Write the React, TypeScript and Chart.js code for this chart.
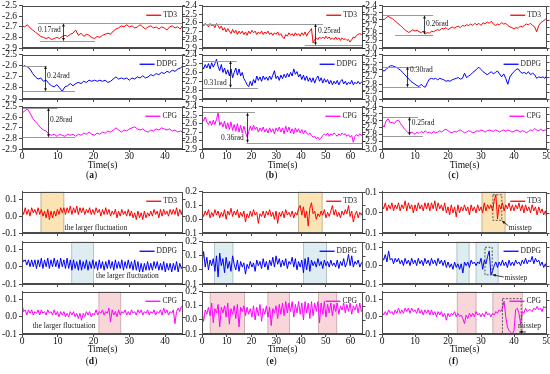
import React, { useEffect, useRef } from 'react';
import { Chart, registerables } from 'chart.js';

Chart.register(...registerables);

const FONT = '"Liberation Serif", "Times New Roman", serif';
Chart.defaults.font.family = FONT;

// ---------- data (a) ----------
const A_TD3 = [-2.69,-2.70,-2.68,-2.71,-2.73,-2.75,-2.77,-2.79,-2.80,-2.81,
  -2.80,-2.82,-2.81,-2.80,-2.81,-2.79,-2.78,-2.79,-2.77,-2.76,
  -2.73,-2.78,-2.76,-2.79,-2.77,-2.78,-2.80,-2.81,-2.79,-2.80,
  -2.78,-2.77,-2.76,-2.77,-2.74,-2.72,-2.71,-2.69,-2.70,-2.68,
  -2.70,-2.69,-2.71,-2.70,-2.68,-2.70,-2.72,-2.70,-2.69,-2.71,
  -2.70,-2.72,-2.70,-2.71,-2.73,-2.70,-2.69,-2.71,-2.70,-2.72,-2.68];
const A_DDPG = [-2.61,-2.60,-2.61,-2.63,-2.67,-2.70,-2.72,-2.71,-2.74,-2.73,
  -2.76,-2.78,-2.79,-2.77,-2.80,-2.83,-2.79,-2.78,-2.76,-2.78,
  -2.76,-2.75,-2.76,-2.74,-2.75,-2.73,-2.74,-2.73,-2.74,-2.73,
  -2.74,-2.73,-2.75,-2.74,-2.72,-2.70,-2.72,-2.71,-2.72,-2.71,
  -2.73,-2.71,-2.72,-2.70,-2.71,-2.69,-2.71,-2.70,-2.68,-2.69,
  -2.67,-2.68,-2.66,-2.67,-2.65,-2.66,-2.64,-2.65,-2.63,-2.62,-2.60];
const A_CPG = [-2.56,-2.54,-2.52,-2.56,-2.61,-2.64,-2.67,-2.70,-2.72,-2.73,
  -2.76,-2.77,-2.76,-2.78,-2.76,-2.77,-2.78,-2.76,-2.77,-2.76,
  -2.78,-2.76,-2.77,-2.75,-2.76,-2.74,-2.76,-2.77,-2.75,-2.76,
  -2.74,-2.75,-2.73,-2.74,-2.72,-2.70,-2.72,-2.74,-2.72,-2.73,
  -2.71,-2.70,-2.69,-2.71,-2.72,-2.71,-2.73,-2.74,-2.72,-2.73,
  -2.71,-2.72,-2.70,-2.71,-2.72,-2.71,-2.73,-2.72,-2.74,-2.73,-2.74];

// ---------- data (b) ----------
const B_TD3 = [-2.62,-2.64,-2.61,-2.63,-2.65,-2.61,-2.64,-2.62,-2.66,-2.61,
  -2.64,-2.67,-2.64,-2.69,-2.66,-2.71,-2.67,-2.70,-2.73,-2.68,
  -2.72,-2.69,-2.74,-2.70,-2.73,-2.70,-2.74,-2.71,-2.75,-2.70,
  -2.73,-2.69,-2.72,-2.70,-2.74,-2.71,-2.73,-2.70,-2.74,-2.71,
  -2.73,-2.70,-2.74,-2.72,-2.75,-2.72,-2.74,-2.71,-2.75,-2.73,
  -2.77,-2.79,-2.74,-2.76,-2.72,-2.75,-2.73,-2.76,-2.72,-2.75,
  -2.73,-2.76,-2.72,-2.75,-2.71,-2.76,-2.72,-2.70,-2.67,-2.84,
  -2.80,-2.78,-2.80,-2.77,-2.79,-2.77,-2.79,-2.76,-2.79,-2.77,
  -2.80,-2.78,-2.80,-2.77,-2.80,-2.78,-2.81,-2.78,-2.80,-2.79,
  -2.81,-2.80,-2.83,-2.80,-2.77,-2.78,-2.75,-2.74,-2.73,-2.74,-2.73];
const B_DDPG = [-2.52,-2.56,-2.51,-2.55,-2.50,-2.56,-2.49,-2.54,-2.50,-2.45,
  -2.53,-2.58,-2.51,-2.60,-2.55,-2.62,-2.57,-2.64,-2.56,-2.66,
  -2.60,-2.55,-2.63,-2.56,-2.64,-2.60,-2.67,-2.70,-2.74,-2.76,
  -2.70,-2.75,-2.68,-2.72,-2.64,-2.69,-2.65,-2.70,-2.64,-2.68,
  -2.65,-2.69,-2.64,-2.68,-2.63,-2.58,-2.67,-2.64,-2.69,-2.63,
  -2.67,-2.62,-2.66,-2.61,-2.65,-2.60,-2.64,-2.56,-2.62,-2.59,
  -2.65,-2.62,-2.68,-2.63,-2.69,-2.64,-2.70,-2.66,-2.71,-2.66,
  -2.72,-2.67,-2.64,-2.70,-2.66,-2.72,-2.67,-2.71,-2.68,-2.73,
  -2.69,-2.74,-2.70,-2.73,-2.69,-2.74,-2.70,-2.68,-2.73,-2.70,
  -2.74,-2.71,-2.73,-2.69,-2.74,-2.71,-2.73,-2.70,-2.73,-2.71,-2.72];
const B_CPG = [-2.53,-2.57,-2.52,-2.58,-2.61,-2.57,-2.62,-2.56,-2.61,-2.55,
  -2.47,-2.62,-2.58,-2.64,-2.57,-2.66,-2.59,-2.67,-2.58,-2.68,
  -2.61,-2.69,-2.60,-2.70,-2.62,-2.71,-2.63,-2.70,-2.76,-2.70,
  -2.63,-2.68,-2.62,-2.67,-2.64,-2.70,-2.65,-2.69,-2.64,-2.70,
  -2.66,-2.71,-2.65,-2.70,-2.66,-2.72,-2.65,-2.69,-2.64,-2.70,
  -2.65,-2.72,-2.63,-2.70,-2.64,-2.71,-2.66,-2.72,-2.65,-2.70,
  -2.66,-2.71,-2.67,-2.72,-2.68,-2.71,-2.73,-2.71,-2.74,-2.76,
  -2.75,-2.78,-2.76,-2.79,-2.77,-2.74,-2.72,-2.74,-2.71,-2.75,
  -2.72,-2.74,-2.71,-2.73,-2.75,-2.72,-2.74,-2.71,-2.73,-2.72,
  -2.75,-2.73,-2.76,-2.74,-2.82,-2.75,-2.73,-2.75,-2.72,-2.74,-2.72];

// ---------- data (c) ----------
const C_TD3 = [-2.58,-2.60,-2.57,-2.55,-2.57,-2.58,-2.61,-2.63,-2.66,-2.68,
  -2.71,-2.74,-2.76,-2.78,-2.76,-2.74,-2.76,-2.75,-2.77,-2.78,
  -2.76,-2.80,-2.78,-2.79,-2.76,-2.77,-2.75,-2.74,-2.75,-2.72,
  -2.73,-2.71,-2.74,-2.72,-2.70,-2.72,-2.70,-2.69,-2.71,-2.68,
  -2.69,-2.67,-2.68,-2.66,-2.68,-2.65,-2.67,-2.65,-2.68,-2.64,
  -2.66,-2.63,-2.65,-2.62,-2.66,-2.68,-2.66,-2.67,-2.64,-2.66,
  -2.65,-2.68,-2.70,-2.71,-2.73,-2.71,-2.72,-2.69,-2.70,-2.68,
  -2.66,-2.67,-2.65,-2.68,-2.70,-2.77,-2.68,-2.64,-2.62,-2.60,-2.57];
const C_DDPG = [-2.61,-2.62,-2.60,-2.57,-2.55,-2.55,-2.56,-2.57,-2.59,-2.61,
  -2.64,-2.67,-2.70,-2.73,-2.76,-2.78,-2.80,-2.82,-2.83,-2.80,
  -2.83,-2.84,-2.78,-2.73,-2.72,-2.73,-2.72,-2.74,-2.72,-2.73,
  -2.74,-2.76,-2.75,-2.76,-2.74,-2.73,-2.72,-2.71,-2.73,-2.72,
  -2.65,-2.71,-2.69,-2.67,-2.64,-2.62,-2.59,-2.57,-2.60,-2.63,
  -2.65,-2.67,-2.65,-2.63,-2.66,-2.64,-2.62,-2.66,-2.70,-2.66,
  -2.72,-2.80,-2.70,-2.66,-2.63,-2.60,-2.59,-2.63,-2.65,-2.64,
  -2.66,-2.63,-2.67,-2.65,-2.67,-2.72,-2.70,-2.71,-2.70,-2.72,-2.68];
const C_CPG = [-2.65,-2.69,-2.60,-2.57,-2.63,-2.62,-2.64,-2.60,-2.59,-2.64,
  -2.68,-2.72,-2.75,-2.78,-2.76,-2.77,-2.79,-2.76,-2.78,-2.75,
  -2.77,-2.74,-2.77,-2.76,-2.78,-2.75,-2.77,-2.76,-2.74,-2.76,
  -2.73,-2.72,-2.74,-2.76,-2.77,-2.75,-2.76,-2.74,-2.73,-2.75,
  -2.77,-2.76,-2.74,-2.75,-2.77,-2.76,-2.74,-2.75,-2.73,-2.74,
  -2.76,-2.74,-2.73,-2.74,-2.75,-2.73,-2.74,-2.76,-2.74,-2.73,
  -2.75,-2.73,-2.74,-2.76,-2.75,-2.73,-2.74,-2.76,-2.74,-2.75,
  -2.77,-2.75,-2.73,-2.74,-2.71,-2.73,-2.74,-2.72,-2.74,-2.73,-2.74];

// ---------- data (d) ----------
const D_TD3 = [0.04,0.01,0.05,0.01,0.04,0.00,0.05,0.02,0.04,0.01,0.05,0.01,
  0.04,0.00,0.03,-0.01,0.04,-0.02,0.03,-0.01,0.03,0.00,0.04,0.01,0.05,
  0.02,0.05,0.01,0.05,0.02,0.06,0.01,0.05,0.02,0.06,0.01,0.05,0.02,0.05,0.01,0.04,
  0.02,0.05,0.01,0.04,0.01,0.05,0.02,0.04,0.00,0.04,0.01,0.05,0.01,
  0.04,0.00,0.03,0.01,0.04,-0.01,0.03,0.00,0.04,0.01,0.03,0.00,0.04,
  0.00,0.03,-0.01,0.02,-0.02,0.03,-0.01,0.02,-0.02,0.03,-0.01,0.02,0.00,0.03,
  0.00,0.04,0.01,0.03,-0.01,0.04,0.00,0.04,0.01,0.03,0.00,0.04,0.01,
  0.04,0.01,0.05,0.00,0.04,0.01,0.05];
const D_DDPG = [0.05,0.03,0.04,0.01,0.04,0.00,0.04,0.00,0.04,-0.01,0.04,0.00,
  0.05,-0.01,0.04,0.00,0.05,-0.01,0.04,0.00,0.05,0.00,0.04,-0.01,0.05,
  0.00,0.04,-0.01,0.05,-0.01,0.04,-0.02,0.04,-0.01,0.03,-0.02,0.04,-0.02,0.03,-0.01,0.04,
  -0.02,0.03,-0.01,0.04,-0.01,0.03,-0.02,0.04,-0.01,0.03,-0.02,0.03,-0.01,
  0.04,-0.01,0.03,-0.02,0.04,-0.01,0.03,-0.01,0.04,-0.02,0.03,-0.01,0.04,
  -0.01,0.03,-0.02,0.04,-0.02,0.03,-0.03,0.02,-0.03,0.02,-0.02,0.03,-0.02,0.02,
  -0.02,0.03,-0.01,0.03,-0.02,0.02,-0.02,0.03,-0.03,0.02,-0.02,0.02,-0.03,
  0.02,-0.02,0.03,-0.03,0.02,-0.01,0.01];
const D_CPG = [0.07,0.03,0.04,0.01,0.04,0.02,0.04,0.01,0.03,0.02,0.04,0.01,
  0.04,0.02,0.03,0.01,0.04,0.02,0.03,0.01,0.04,0.01,0.03,0.00,0.03,
  0.01,0.03,0.00,0.02,0.00,0.03,0.01,0.03,0.00,0.02,-0.01,0.02,-0.02,0.02,0.00,0.03,
  0.01,0.03,0.00,0.02,0.01,0.04,0.01,0.03,0.02,0.04,0.01,0.03,0.02,
  0.05,-0.03,0.04,0.01,0.03,0.00,0.04,0.01,0.03,0.02,0.04,0.01,0.03,
  0.01,0.04,0.02,0.03,0.01,0.04,0.02,0.04,0.01,0.03,0.02,0.04,0.01,0.03,
  0.02,0.04,0.01,0.03,0.02,0.04,0.01,0.05,0.02,0.04,0.01,0.03,0.02,
  0.04,-0.04,0.03,0.05,0.03,0.06,0.05];

// ---------- data (e) ----------
const E_TD3 = [0.05,0.02,0.06,0.03,0.07,0.01,0.05,0.02,0.07,0.03,
  0.06,0.01,0.05,0.02,0.07,0.00,0.06,0.03,0.08,0.02,
  0.06,0.03,0.07,0.01,0.05,0.02,0.06,-0.02,0.04,0.01,
  0.06,0.02,0.07,0.03,0.05,-0.03,0.04,0.02,0.06,0.01,
  0.06,0.03,0.07,0.02,0.05,0.00,0.06,-0.03,0.05,0.02,
  0.06,0.01,0.07,0.03,0.05,0.02,0.06,0.01,0.05,0.03,
  0.08,0.10,0.03,0.09,0.01,0.06,-0.05,0.08,0.12,0.04,
  0.06,0.00,0.04,0.02,0.06,0.03,0.07,0.01,0.05,0.02,
  0.06,0.10,0.03,0.07,0.02,0.05,0.01,0.06,0.03,0.07,
  0.04,0.10,0.02,0.06,-0.02,0.03,0.06,0.01,0.05,0.03,0.06];
const E_DDPG = [0.04,0.13,0.02,0.09,0.00,0.07,0.03,0.08,-0.01,0.10,
  -0.05,0.12,0.03,0.08,-0.02,0.09,0.01,0.06,-0.01,0.10,
  0.04,0.00,0.07,-0.01,0.06,0.02,0.05,-0.03,0.04,0.01,
  0.06,0.02,0.05,-0.01,0.07,0.03,0.06,0.01,0.08,0.02,
  0.06,0.00,0.07,0.03,0.09,0.02,0.10,0.04,0.08,0.02,
  0.07,0.03,0.08,0.01,0.06,0.04,0.09,0.02,0.08,0.00,
  0.06,0.02,0.07,-0.02,0.08,0.00,0.09,-0.01,0.07,0.03,
  0.06,0.02,0.08,0.03,0.06,0.01,0.07,0.03,0.06,0.02,
  0.07,0.03,0.05,0.02,0.07,0.01,0.06,0.03,0.08,0.02,
  0.05,0.11,0.03,0.10,0.02,0.06,0.04,0.07,0.02,0.05,0.06];
const E_CPG = [0.06,-0.01,0.07,0.04,0.09,0.03,0.12,-0.02,0.08,0.05,
  0.11,-0.05,0.09,0.05,0.10,0.02,0.12,-0.03,0.08,0.04,
  0.10,0.01,0.11,-0.05,0.09,0.06,0.10,0.03,0.09,0.04,
  0.08,0.02,0.10,0.00,0.09,0.03,0.11,-0.01,0.08,0.04,
  0.10,0.02,0.09,-0.04,0.08,0.05,0.10,0.01,0.11,0.04,
  0.12,0.03,0.13,0.05,0.12,0.06,0.13,0.02,0.11,0.05,
  0.13,0.04,0.12,0.00,0.13,0.05,0.12,0.01,0.13,0.03,
  0.12,0.06,0.13,-0.02,0.12,0.04,0.13,0.02,0.11,0.05,
  0.12,0.03,0.11,0.06,0.12,0.04,0.10,0.07,0.12,0.05,
  0.11,0.06,0.12,0.04,0.10,0.07,0.11,0.05,0.12,0.06,0.08];

// ---------- data (f) ----------
const F_TD3 = [0.04,0.02,0.05,0.01,0.04,0.02,0.05,0.01,0.04,0.02,
  0.05,0.01,0.04,0.02,0.06,0.01,0.05,0.02,0.04,0.00,
  0.04,0.01,0.05,0.02,0.04,0.01,0.05,0.02,0.05,0.01,
  0.05,0.02,0.06,0.01,0.05,0.02,0.04,0.01,0.05,0.00,
  0.03,-0.01,0.04,0.00,0.03,-0.02,0.04,0.00,0.03,0.01,
  0.04,0.01,0.03,-0.01,0.04,0.01,0.03,0.00,0.04,0.01,
  0.03,0.00,0.05,0.01,0.04,0.02,0.04,0.01,0.06,0.09,
  -0.03,0.04,0.02,0.05,0.01,0.04,0.02,0.05,0.01,0.04,
  0.01,0.04,0.02,0.05,0.01,0.04,0.00,0.04,0.01,0.03,
  0.00,0.04,0.01,0.03,-0.01,0.03,0.00,0.02,-0.01,0.01,-0.03];
const F_DDPG = [0.05,0.03,0.06,0.02,0.08,0.03,0.04,0.01,0.04,0.02,
  0.04,0.01,0.03,0.00,0.04,0.01,0.03,0.00,0.04,0.01,
  0.03,0.00,0.04,0.01,0.03,0.00,0.04,0.01,0.03,0.00,
  0.04,0.01,0.03,0.00,0.04,0.01,0.03,0.00,0.03,-0.01,
  0.02,-0.01,0.01,-0.02,0.02,-0.01,0.01,-0.02,0.01,-0.04,
  0.02,0.00,0.02,-0.01,0.03,0.01,0.02,0.00,0.02,0.01,
  0.04,-0.02,0.03,0.01,0.05,0.08,-0.05,-0.03,0.00,0.02,
  -0.01,0.02,0.00,0.03,0.00,0.02,-0.01,0.03,0.00,0.02,
  0.00,0.03,0.01,0.02,0.00,0.03,0.01,0.04,0.01,0.03,
  0.02,0.05,0.01,0.04,0.02,0.03,0.00,0.02,-0.01,0.01,-0.02];
const F_CPG = [0.03,0.01,0.03,0.01,0.04,0.02,0.03,0.01,0.04,0.02,
  0.05,0.02,0.04,0.02,0.05,0.03,0.05,0.02,0.05,0.03,
  0.04,0.02,0.05,0.02,0.04,0.01,0.04,0.02,0.04,0.01,
  0.04,0.01,0.03,0.00,0.03,0.01,0.03,0.00,0.02,-0.02,
  0.02,0.00,0.02,0.01,0.03,0.00,0.02,0.00,0.01,-0.01,
  -0.04,0.01,-0.01,0.02,0.00,0.02,0.00,0.03,0.01,0.02,
  0.00,0.02,0.00,0.03,0.01,0.02,0.00,0.02,0.01,0.03,
  0.02,0.04,0.03,0.05,0.09,0.00,-0.06,-0.08,-0.09,-0.10,
  -0.08,0.04,0.05,0.02,-0.04,0.03,0.02,0.05,0.03,0.04,
  0.04,0.03,0.05,0.04,0.06,0.04,0.05,0.03,0.06,0.05,0.07];

const SERIES_NAMES = ['TD3', 'DDPG', 'CPG'];
const SERIES_COLORS = ['#ff0000', '#0000ff', '#ff00ff'];
const PANEL_LETTERS = ['a', 'b', 'c', 'd', 'e', 'f'];
const PANEL_TMAX = [45, 65, 50, 45, 65, 50];

// ---------- layout ----------
const COL_X = [[22, 183], [202, 363], [382, 547]];
const ROW_Y = [
  [[5, 48], [54, 99], [106, 149]],
  [[191, 233], [241, 284], [291, 334]],
];
const CAPTION_Y = [[165, 175], [349, 361]];
const Y_AXIS_W = 22;
const PAD_T = 6;
const PAD_R = 6;

const REGION_FILL: any = { y: '#fbe3b3', b: '#ddedf1', p: '#f8d6d9' };
const REGION_STROKE: any = { y: '#b5a47e', b: '#a4b8bd', p: '#c4a3a6' };

const PANELS: any[] = [
  { col: 0, row: 0, subs: [
    { values: A_TD3, min: -2.9, max: -2.5, lines: [[-2.665, 4.5, 45], [-2.835, 5, 20.4]], arrow: [11.4, -2.665, -2.835], text: [[4.5, -2.73, '0.17rad']] },
    { values: A_DDPG, min: -2.9, max: -2.5, lines: [[-2.6, 0, 7], [-2.832, 0, 14.8]], arrow: [6.4, -2.6, -2.832], text: [[7.0, -2.696, '0.24rad']] },
    { values: A_CPG, min: -2.9, max: -2.5, lines: [[-2.51, 0, 9.9], [-2.79, 0, 14.8]], arrow: [7.3, -2.51, -2.79], text: [[7.8, -2.63, '0.28rad']] },
  ] },
  { col: 1, row: 0, subs: [
    { values: B_TD3, min: -2.9, max: -2.4, lines: [[-2.613, 0, 48.8], [-2.87, 41.5, 65]], arrow: [45.6, -2.613, -2.87], text: [[46.8, -2.70, '0.25rad']] },
    { values: B_DDPG, min: -2.9, max: -2.4, lines: [[-2.467, 0, 14], [-2.774, 0, 22.6]], arrow: [11.3, -2.467, -2.774], text: [[0.8, -2.72, '0.31rad']] },
    { values: B_CPG, min: -2.9, max: -2.4, lines: [[-2.468, 0, 21.4], [-2.83, 18, 65]], arrow: [18.1, -2.468, -2.83], text: [[7.7, -2.77, '0.36rad']] },
  ] },
  { col: 2, row: 0, subs: [
    { values: C_TD3, min: -3.0, max: -2.4, lines: [[-2.536, 0, 15.5], [-2.81, 4, 15.5]], arrow: [12.7, -2.536, -2.81], text: [[13.3, -2.66, '0.26rad']] },
    { values: C_DDPG, min: -3.0, max: -2.4, lines: [[-2.56, 0, 10.6], [-2.844, 0, 11.8]], arrow: [7.6, -2.56, -2.844], text: [[8.5, -2.61, '0.30rad']] },
    { values: C_CPG, min: -3.0, max: -2.4, lines: [[-2.547, 0, 10.9], [-2.81, 0, 12.4]], arrow: [8.2, -2.547, -2.81], text: [[9.0, -2.63, '0.25rad']] },
  ] },
  { col: 0, row: 1, subs: [
    { values: D_TD3, min: -0.1, max: 0.145, regions: [[5.3, 11.7, 'y']], text: [[11.9, -0.068, 'the larger fluctuation']] },
    { values: D_DDPG, min: -0.1, max: 0.145, regions: [[13.9, 20.0, 'b']], text: [[20.7, -0.053, 'the larger fluctuation']] },
    { values: D_CPG, min: -0.1, max: 0.145, regions: [[21.5, 27.6, 'p']], text: [[3.0, -0.056, 'the larger fluctuation']] },
  ] },
  { col: 1, row: 1, subs: [
    { values: E_TD3, min: -0.1, max: 0.2, regions: [[39, 48.5, 'y']] },
    { values: E_DDPG, min: -0.1, max: 0.2, regions: [[5, 12.5, 'b'], [41, 50.3, 'b']] },
    { values: E_CPG, min: -0.1, max: 0.2, regions: [[3.3, 17.2, 'p'], [26.6, 35.3, 'p'], [47, 54.4, 'p']] },
  ] },
  { col: 2, row: 1, subs: [
    { values: F_TD3, min: -0.1, max: 0.105, regions: [[30.3, 37.3, 'y']], dashed: [[33.6, 36.3, -0.037, 0.09]], text: [[38.4, -0.075, 'misstep']], pointers: [[38.3, -0.064, 36.4, -0.04]] },
    { values: F_DDPG, min: -0.1, max: 0.13, regions: [[22.7, 26.4, 'b'], [28.5, 35.2, 'b']], dashed: [[31.2, 33.4, -0.05, 0.1]], text: [[37.1, -0.066, 'misstep']], pointers: [[36.9, -0.062, 33.5, -0.05]] },
    { values: F_CPG, min: -0.1, max: 0.145, regions: [[22.8, 28.5, 'p'], [33.6, 42.5, 'p']], dashed: [[36.5, 42.2, -0.098, 0.105]], text: [[41.2, -0.055, 'misstep']], pointers: [[43.6, -0.088, 41.6, -0.088]] },
  ] },
];

function fmt(v: any) {
  const n = Number(v);
  return Math.abs(n) < 1e-9 ? '0.0' : n.toFixed(1);
}

function arrowHead(ctx: any, x: number, y: number, ang: number, size: number) {
  ctx.beginPath();
  ctx.moveTo(x, y);
  ctx.lineTo(x - size * Math.cos(ang - 0.4), y - size * Math.sin(ang - 0.4));
  ctx.lineTo(x - size * Math.cos(ang + 0.4), y - size * Math.sin(ang + 0.4));
  ctx.closePath();
  ctx.fill();
}

function Plot({ pi, si }: any) {
  const ref = useRef<HTMLCanvasElement>(null);
  const panel = PANELS[pi];
  const s = panel.subs[si];
  const tMax = PANEL_TMAX[pi];
  const [x0, x1] = COL_X[panel.col];
  const [y0, y1] = ROW_Y[panel.row][si];
  const last = si === 2;
  const xH = last ? 16 : 7;
  const W = Y_AXIS_W + (x1 - x0) + PAD_R;
  const H = PAD_T + (y1 - y0) + xH;
  const name = SERIES_NAMES[si];
  const color = SERIES_COLORS[si];

  useEffect(() => {
    const n = s.values.length;
    const dt = tMax / (n - 1);
    const pts = s.values.map((v: number, i: number) => ({ x: i * dt, y: v }));

    const overlay = {
      id: 'overlay' + pi + si,
      beforeDatasetsDraw(chart: any) {
        const { ctx, chartArea: ca, scales } = chart;
        const xs = scales.x;
        ctx.save();
        for (const r of s.regions || []) {
          const a = xs.getPixelForValue(r[0]);
          const b = xs.getPixelForValue(r[1]);
          ctx.fillStyle = REGION_FILL[r[2]];
          ctx.fillRect(a, ca.top, b - a, ca.bottom - ca.top);
          ctx.strokeStyle = REGION_STROKE[r[2]];
          ctx.lineWidth = 0.8;
          ctx.strokeRect(a, ca.top + 0.5, b - a, ca.bottom - ca.top - 1);
        }
        ctx.restore();
      },
      afterDatasetsDraw(chart: any) {
        const { ctx, chartArea: ca, scales } = chart;
        const xs = scales.x;
        const ys = scales.y;
        ctx.save();
        // reference lines
        ctx.strokeStyle = '#9a9a9a';
        ctx.lineWidth = 1;
        for (const l of s.lines || []) {
          const py = Math.round(ys.getPixelForValue(l[0])) + 0.5;
          ctx.beginPath();
          ctx.moveTo(xs.getPixelForValue(l[1]), py);
          ctx.lineTo(xs.getPixelForValue(l[2]), py);
          ctx.stroke();
        }
        // double arrow
        if (s.arrow) {
          const px = Math.round(xs.getPixelForValue(s.arrow[0])) + 0.5;
          const pa = ys.getPixelForValue(s.arrow[1]);
          const pb = ys.getPixelForValue(s.arrow[2]);
          ctx.strokeStyle = '#111';
          ctx.fillStyle = '#111';
          ctx.lineWidth = 0.8;
          ctx.beginPath();
          ctx.moveTo(px, pa + 2);
          ctx.lineTo(px, pb - 2);
          ctx.stroke();
          arrowHead(ctx, px, pa, -Math.PI / 2, 3.5);
          arrowHead(ctx, px, pb, Math.PI / 2, 3.5);
        }
        // dashed boxes
        ctx.setLineDash([2, 1.5]);
        ctx.strokeStyle = '#333';
        ctx.lineWidth = 0.8;
        for (const d of s.dashed || []) {
          const a = xs.getPixelForValue(d[0]);
          const b = xs.getPixelForValue(d[1]);
          const c = ys.getPixelForValue(d[3]);
          const e = ys.getPixelForValue(d[2]);
          ctx.strokeRect(a, c, b - a, e - c);
        }
        ctx.setLineDash([]);
        // pointers
        ctx.strokeStyle = '#111';
        ctx.fillStyle = '#111';
        for (const p of s.pointers || []) {
          const ax = xs.getPixelForValue(p[0]);
          const ay = ys.getPixelForValue(p[1]);
          const bx = xs.getPixelForValue(p[2]);
          const by = ys.getPixelForValue(p[3]);
          ctx.lineWidth = 0.8;
          ctx.beginPath();
          ctx.moveTo(ax, ay);
          ctx.lineTo(bx, by);
          ctx.stroke();
          arrowHead(ctx, bx, by, Math.atan2(by - ay, bx - ax), 3.5);
        }
        // texts
        ctx.font = '7.5px ' + FONT;
        ctx.fillStyle = '#222';
        ctx.textAlign = 'left';
        ctx.textBaseline = 'middle';
        for (const t of s.text || []) {
          ctx.fillText(t[2], xs.getPixelForValue(t[0]), ys.getPixelForValue(t[1]));
        }
        // legend
        ctx.font = '7.5px ' + FONT;
        ctx.textAlign = 'right';
        const tx = ca.right - 6;
        const ty = ca.top + 9;
        const tw = ctx.measureText(name).width;
        ctx.fillStyle = '#222';
        ctx.fillText(name, tx, ty);
        ctx.strokeStyle = color;
        ctx.lineWidth = 1.3;
        ctx.beginPath();
        ctx.moveTo(tx - tw - 17, ty + 0.5);
        ctx.lineTo(tx - tw - 2, ty + 0.5);
        ctx.stroke();
        // frame + right ticks
        ctx.strokeStyle = '#4a4a4a';
        ctx.lineWidth = 1;
        const L = Math.round(ca.left) + 0.5;
        const R = Math.round(ca.right) - 0.5;
        const T = Math.round(ca.top) + 0.5;
        const B = Math.round(ca.bottom) - 0.5;
        ctx.strokeRect(L, T, R - L, B - T);
        ctx.beginPath();
        for (const tk of ys.ticks) {
          const py = Math.round(ys.getPixelForValue(tk.value)) + 0.5;
          ctx.moveTo(R, py);
          ctx.lineTo(R + 3, py);
        }
        ctx.stroke();
        ctx.restore();
      },
    };

    const tickFont = { family: FONT, size: 9.5, lineHeight: 1 };
    const chart = new Chart(ref.current as any, {
      type: 'line',
      data: {
        datasets: [{
          label: name,
          data: pts,
          borderColor: color,
          backgroundColor: color,
          borderWidth: 1,
          pointRadius: 0,
          tension: 0,
          fill: false,
        }],
      },
      options: {
        animation: false,
        responsive: false,
        events: [],
        layout: { padding: { top: PAD_T, right: PAD_R, left: 0, bottom: 0 } },
        plugins: { legend: { display: false }, tooltip: { enabled: false } },
        scales: {
          x: {
            type: 'linear',
            min: 0,
            max: tMax,
            afterFit: (sc: any) => { sc.height = xH; },
            ticks: {
              display: last,
              stepSize: 10,
              includeBounds: false,
              autoSkip: false,
              maxRotation: 0,
              padding: 0,
              color: '#111',
              font: tickFont,
            },
            grid: { drawOnChartArea: false, tickLength: 3, color: '#4a4a4a' },
            border: { color: '#4a4a4a' },
          },
          y: {
            type: 'linear',
            min: s.min,
            max: s.max,
            afterFit: (sc: any) => { sc.width = Y_AXIS_W; },
            ticks: {
              stepSize: 0.1,
              includeBounds: false,
              autoSkip: false,
              padding: 2,
              color: '#111',
              font: tickFont,
              callback: (v: any) => fmt(v),
            },
            grid: { drawOnChartArea: false, tickLength: 3, color: '#4a4a4a' },
            border: { color: '#4a4a4a' },
          },
        },
      } as any,
      plugins: [overlay],
    } as any);
    return () => chart.destroy();
  }, []);

  return (
    <canvas
      ref={ref}
      width={W}
      height={H}
      style={{ position: 'absolute', left: x0 - Y_AXIS_W, top: y0 - PAD_T, width: W, height: H }}
    />
  );
}

export default function App() {
  const items: any[] = [];
  PANELS.forEach((p, pi) => {
    p.subs.forEach((_s: any, si: number) => {
      items.push(<Plot key={'p' + pi + '-' + si} pi={pi} si={si} />);
    });
    const [x0, x1] = COL_X[p.col];
    const [cy1, cy2] = CAPTION_Y[p.row];
    const cx = (x0 + x1) / 2;
    const lx = (x0 - Y_AXIS_W + x1) / 2;
    items.push(
      <div key={'t' + pi} style={{ position: 'absolute', left: cx - 40, width: 80, top: cy1 - 6, height: 12, lineHeight: '12px', textAlign: 'center', fontSize: 9.5, color: '#111' }}>
        Time(s)
      </div>
    );
    items.push(
      <div key={'l' + pi} style={{ position: 'absolute', left: lx - 20, width: 40, top: cy2 - 6, height: 12, lineHeight: '12px', textAlign: 'center', fontSize: 9.5, color: '#111' }}>
        (<b>{PANEL_LETTERS[pi]}</b>)
      </div>
    );
  });
  return (
    <div style={{ position: 'absolute', left: 0, top: 0, width: 550, height: 374, background: '#fff', fontFamily: FONT, overflow: 'hidden' }}>
      {items}
    </div>
  );
}
